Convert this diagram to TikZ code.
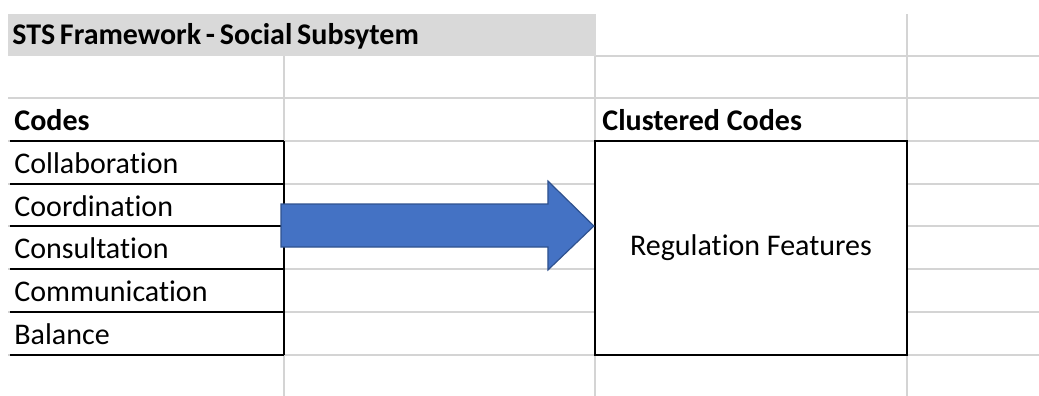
\documentclass[tikz,border=0pt]{standalone}
\usepackage{fontspec}
\setmainfont[Ligatures=NoCommon]{Carlito}
\usetikzlibrary{calc}
\definecolor{gridgrey}{RGB}{212,212,212}
\definecolor{headgrey}{RGB}{217,217,217}
\definecolor{arrowblue}{RGB}{68,114,196}
\definecolor{arrowedge}{RGB}{47,82,143}

\begin{document}
\begin{tikzpicture}[x=0.5pt, y=-0.5pt,
        grid/.style={draw=gridgrey, line width=1pt},
        rule/.style={draw=black, line width=1.1pt},
        cell/.style={anchor=base west, inner sep=0pt, font=\fontsize{15}{18}\selectfont},
        headcell/.style={cell, font=\fontsize{15}{18}\selectfont\bfseries}]
        \useasboundingbox (0,0) rectangle (1039,396);

        % header band
        \fill[headgrey] (8,14) rectangle (596,56);

        % sheet grid
        \foreach \y in {98,141,184,226,269,312,355}
          \draw[grid] (8,\y) -- (1039,\y);
        \draw[grid] (596,56) -- (1039,56);
        \foreach \x in {284,595}
          \draw[grid] (\x,56) -- (\x,396);
        \draw[grid] (907,14) -- (907,396);

        % code list
        \foreach \y in {141,184,226,269,312,355}
          \draw[rule] (10,\y) -- (284,\y);
        \draw[rule] (284,141) -- (284,355);

        \node[headcell] (title) at (12,44) {\spaceskip=0.16em\relax STS Framework - Social Subsytem};
        \node[headcell] (codes) at (14,130) {Codes};
        \node[cell] (collab) at (14,173) {Collaboration};
        \node[cell] (coord) at (14,216) {Coordination};
        \node[cell] (consult) at (14,258) {Consultation};
        \node[cell] (comm) at (14,301) {Communication};
        \node[cell] (balance) at (14,344) {Balance};

        \node[headcell] (clustered) at (602,130) {Clustered Codes};
        \node[rule, fill=white, minimum width=156pt, minimum height=107pt,
              font=\fontsize{15}{18}\selectfont] (cluster) at (751,248) {Regulation Features};

        % block arrow
        \coordinate (tail) at (281,226);
        \coordinate (tip) at (cluster.west |- tail);
        \filldraw[fill=arrowblue, draw=arrowedge, line width=0.6pt]
          ($(tail)+(0,-22)$) -- ($(tip)+(-46,-22)$) -- ($(tip)+(-46,-45)$) -- (tip)
          -- ($(tip)+(-46,44)$) -- ($(tip)+(-46,21)$) -- ($(tail)+(0,21)$) -- cycle;
\end{tikzpicture}
\end{document}
